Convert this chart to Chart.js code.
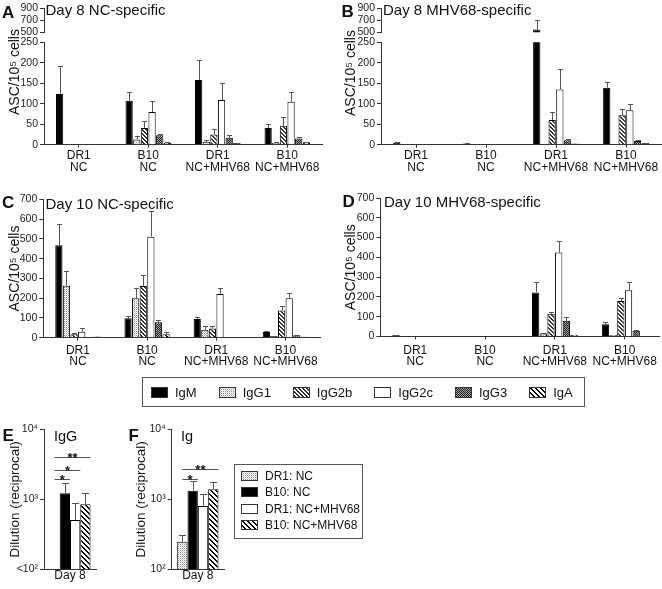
<!DOCTYPE html>
<html>
<head>
<meta charset="utf-8">
<title>ASC and titer panels</title>
<script src="https://cdn.jsdelivr.net/npm/chart.js@4.4.1/dist/chart.umd.min.js"></script>
<style>
  body { margin: 0; background: #fff; }
  #page { position: relative; width: 662px; height: 589px; overflow: hidden;
          font-family: Arial, "Liberation Sans", Helvetica, sans-serif; color: #111; }
  #page canvas { position: absolute; }
  .txt { position: absolute; line-height: 1; white-space: nowrap; }
  .letter { font-weight: bold; font-size: 17px; }
  .head { font-size: 15px; }
  .box { position: absolute; border: 1px solid #555; box-sizing: border-box; }
  #isoLegend { left: 142px; top: 377px; width: 443px; height: 30px; display: flex; align-items: center; padding-left: 8px; }
  #isoLegend .item { display: flex; align-items: center; margin-right: 22px; font-size: 13px; }
  #isoLegend canvas, #grpLegend canvas { position: static; margin-right: 7px; }
  #grpLegend { left: 234px; top: 464px; width: 129px; height: 75px; padding: 3px 0 0 6px; }
  #grpLegend .item { display: flex; align-items: center; height: 16.3px; font-size: 12px; }
</style>
</head>
<body>
<div id="page">
  <canvas id="aTop" width="331" height="42" style="left:0;top:0"></canvas>
  <canvas id="aLow" width="331" height="175" style="left:0;top:0"></canvas>
  <canvas id="bTop" width="331" height="42" style="left:331px;top:0"></canvas>
  <canvas id="bLow" width="331" height="175" style="left:331px;top:0"></canvas>
  <canvas id="cChart" width="331" height="195" style="left:0;top:175px"></canvas>
  <canvas id="dChart" width="331" height="195" style="left:331px;top:175px"></canvas>
  <canvas id="eChart" width="110" height="179" style="left:0;top:410px"></canvas>
  <canvas id="fChart" width="112" height="179" style="left:120px;top:410px"></canvas>

  <div class="txt letter" style="left:2px;top:3.5px">A</div>
  <div class="txt head" style="left:45.5px;top:1.5px">Day 8 NC-specific</div>
  <div class="txt letter" style="left:341.5px;top:3px">B</div>
  <div class="txt head" style="left:383px;top:1.5px">Day 8 MHV68-specific</div>
  <div class="txt letter" style="left:2px;top:194.2px">C</div>
  <div class="txt head" style="left:45.5px;top:195.9px">Day 10 NC-specific</div>
  <div class="txt letter" style="left:342.5px;top:193.2px">D</div>
  <div class="txt head" style="left:384px;top:194.3px">Day 10 MHV68-specific</div>
  <div class="txt letter" style="left:2.5px;top:426.6px">E</div>
  <div class="txt head" style="left:54px;top:428.5px;font-size:14.5px">IgG</div>
  <div class="txt letter" style="left:128.5px;top:426.6px">F</div>
  <div class="txt head" style="left:181px;top:428.5px;font-size:14.5px">Ig</div>

  <div id="isoLegend" class="box"></div>
  <div id="grpLegend" class="box"></div>
</div>

<script>
// =============================
// DATA
// =============================

const groups = [['DR1', 'NC'], ['B10', 'NC'], ['DR1', 'NC+MHV68'], ['B10', 'NC+MHV68']];
const isotypes = ['IgM', 'IgG1', 'IgG2b', 'IgG2c', 'IgG3', 'IgA'];

// ASC per 10^5 cells: one row per isotype, one column per group
const day8NcMean = [
    [124, 107, 158, 41],
    [2, 13, 7, 5],
    [0.5, 41, 25, 46],
    [1, 80, 109, 105],
    [0.5, 23, 17, 15],
    [0.5, 5, 4, 6]
];
const day8NcSem = [
    [68, 22, 48, 9],
    [0, 8, 4, 1],
    [0, 18, 13, 22],
    [0, 27, 42, 23],
    [0, 3, 7, 4],
    [0, 1, 1, 1]
];

const day8MhvMean = [
    [5, 3, 545, 139],
    [0, 0, 2, 2],
    [0, 0, 60, 72],
    [0, 0, 135, 84],
    [0, 0, 11, 9],
    [0, 0, 3, 4]
];
const day8MhvSem = [
    [2, 1, 155, 13],
    [0, 0, 0, 0],
    [0, 0, 19, 14],
    [0, 0, 49, 15],
    [0, 0, 4, 3],
    [0, 0, 0, 1]
];

const day10NcMean = [
    [467, 98, 94, 29],
    [263, 199, 40, 8],
    [17, 261, 47, 138],
    [30, 511, 221, 200],
    [4, 78, 3, 12],
    [6, 17, 2, 5]
];
const day10NcSem = [
    [108, 12, 12, 5],
    [74, 51, 21, 2],
    [8, 54, 10, 21],
    [17, 132, 32, 24],
    [0, 10, 0, 3],
    [0, 10, 0, 0]
];

const day10MhvMean = [
    [7, 3, 223, 62],
    [0, 0, 15, 7],
    [0, 0, 115, 180],
    [0, 0, 425, 234],
    [0, 0, 79, 29],
    [0, 0, 7, 3]
];
const day10MhvSem = [
    [1, 0, 50, 12],
    [0, 0, 5, 0],
    [0, 0, 11, 14],
    [0, 0, 56, 39],
    [0, 0, 21, 6],
    [0, 0, 0, 0]
];

const lowTicks = [0, 50, 100, 150, 200, 250];
const highTicks = [500, 700, 900];
const day10Ticks = [0, 100, 200, 300, 400, 500, 600, 700];

// serum titers (reciprocal dilution), day 8
const timepoints = ['Day 8'];
const groupNames = ['DR1: NC', 'B10: NC', 'DR1: NC+MHV68', 'B10: NC+MHV68'];
const iggMean = [null, 1220, 507, 848];
const iggSem = [0, 510, 370, 370];
const igMean = [248, 1330, 803, 1390];
const igSem = [58, 500, 390, 400];
const titerTicks = [100, 1000, 10000];
const iggTickLabels = ['<10²', '10³', '10⁴'];
const igTickLabels = ['10²', '10³', '10⁴'];

// significance bars: [from group, to group, height, mark]
const iggBrackets = [[0, 1, 1970, '*'], [0, 2, 2620, '*'], [0, 3, 3980, '**']];
const igBrackets = [[0, 1, 1970, '*'], [0, 3, 2680, '**']];

const ascTitle = 'ASC/10⁵ cells';


// =============================
// FILLS
// =============================

const FONT = "Arial, 'Liberation Sans', Helvetica, sans-serif";
Chart.defaults.font.family = FONT;
Chart.defaults.color = '#111';

function makePattern(size, paint) {
    const c = document.createElement('canvas');
    c.width = c.height = size;
    const x = c.getContext('2d');
    x.fillStyle = '#fff';
    x.fillRect(0, 0, size, size);
    paint(x, size);
    return x.createPattern(c, 'repeat');
}

function diagonal(width, color) {
    return (x, n) => {
        x.fillStyle = color;
        for (let i = 0; i < n; i++) {
            for (let k = 0; k < width; k++) x.fillRect((i + k) % n, i, 1, 1);
        }
    };
}

const stipple = makePattern(2, x => {
    x.fillStyle = '#8c8c8c'; x.fillRect(0, 0, 1, 1);
    x.fillStyle = '#cfcfcf'; x.fillRect(1, 1, 1, 1);
});
const fineHatch = makePattern(4, diagonal(2, '#333'));
const crossHatch = makePattern(2, x => {
    x.fillStyle = '#222'; x.fillRect(0, 0, 1, 1); x.fillRect(1, 1, 1, 1);
    x.fillStyle = '#a0a0a0'; x.fillRect(1, 0, 1, 1); x.fillRect(0, 1, 1, 1);
});
const stripes = makePattern(5, diagonal(2, '#000'));

const isoFill = ['#000', stipple, fineHatch, '#fff', crossHatch, stripes];
const groupFill = [stipple, '#000', '#fff', stripes];


// =============================
// PLUGINS
// =============================

const errorBars = {
    id: 'errorBars',
    afterDatasetsDraw(chart) {
        const { ctx, chartArea: a } = chart;
        ctx.save();
        ctx.beginPath();
        ctx.rect(a.left, a.top - 2, a.right - a.left, a.bottom - a.top + 2);
        ctx.clip();
        ctx.strokeStyle = '#555';
        ctx.lineWidth = 1;
        ctx.beginPath();
        chart.data.datasets.forEach((ds, i) => {
            const meta = chart.getDatasetMeta(i);
            const ys = chart.scales[meta.yAxisID];
            meta.data.forEach((bar, j) => {
                const m = ds.means[j], e = ds.sem[j];
                if (ds.data[j] == null || m == null || !e) return;
                const x = Math.round(bar.x) + 0.5;
                const y0 = ys.getPixelForValue(m);
                const y1 = Math.round(ys.getPixelForValue(m + e)) + 0.5;
                const cap = Math.max(2, bar.width * 0.35);
                ctx.moveTo(x, y0); ctx.lineTo(x, y1);
                ctx.moveTo(x - cap, y1); ctx.lineTo(x + cap, y1);
            });
        });
        ctx.stroke();
        ctx.restore();
    }
};

// rotated axis title spanning both halves of a broken axis
const sideTitle = {
    id: 'sideTitle',
    afterDraw(chart, args, opts) {
        if (!opts || !opts.text) return;
        const ctx = chart.ctx;
        ctx.save();
        ctx.translate(opts.x, opts.y);
        ctx.rotate(-Math.PI / 2);
        ctx.font = '14px ' + FONT;
        ctx.fillStyle = '#111';
        ctx.textAlign = 'center';
        ctx.textBaseline = 'middle';
        ctx.fillText(opts.text, 0, 0);
        ctx.restore();
    }
};

const brackets = {
    id: 'brackets',
    afterDatasetsDraw(chart, args, opts) {
        if (!opts || !opts.list) return;
        const ctx = chart.ctx, ys = chart.scales.y;
        ctx.save();
        ctx.strokeStyle = '#555';
        ctx.fillStyle = '#111';
        ctx.lineWidth = 1;
        ctx.font = 'bold 13px ' + FONT;
        ctx.textAlign = 'center';
        ctx.textBaseline = 'alphabetic';
        opts.list.forEach(b => {
            const x0 = chart.getDatasetMeta(b[0]).data[0].x;
            const bar = chart.getDatasetMeta(b[1]).data[0];
            const x1 = bar.x + bar.width / 2;
            const y = Math.round(ys.getPixelForValue(b[2])) + 0.5;
            ctx.beginPath();
            ctx.moveTo(x0, y); ctx.lineTo(x1, y);
            ctx.stroke();
            ctx.fillText(b[3], (x0 + x1) / 2, y + 4.5);
        });
        ctx.restore();
    }
};


// =============================
// CHART BUILDERS
// =============================

function isoChart(id, cfg) {
    const canvas = document.getElementById(id);
    const W = canvas.width, H = canvas.height, a = cfg.area;
    const lo = cfg.ticks[0], hi = cfg.ticks[cfg.ticks.length - 1];

    const datasets = cfg.mean.map((row, i) => ({
        label: isotypes[i],
        data: cfg.upper ? row.map(v => (v > lo ? v : null)) : row,
        means: row,
        sem: cfg.sem[i],
        backgroundColor: isoFill[i],
        borderColor: '#000',
        borderWidth: 1,
        categoryPercentage: 0.66,
        barPercentage: 0.95,
        clip: 0
    }));

    return new Chart(canvas, {
        type: 'bar',
        data: { labels: groups, datasets: datasets },
        options: {
            responsive: false,
            animation: false,
            devicePixelRatio: 1,
            layout: { padding: { left: 0, top: a.top, right: W - a.right, bottom: cfg.showX ? 0 : H - a.bottom } },
            plugins: {
                legend: { display: false },
                tooltip: { enabled: false },
                sideTitle: cfg.sideTitle || false
            },
            scales: {
                x: {
                    display: cfg.showX,
                    grid: { drawOnChartArea: false, offset: false, tickLength: 3, color: '#333' },
                    border: { color: '#333' },
                    ticks: { font: { size: 12, lineHeight: 0.95 }, color: '#111', padding: cfg.xPad || 0, maxRotation: 0, autoSkip: false },
                    afterFit: s => { if (cfg.showX) s.height = H - a.bottom; }
                },
                y: {
                    min: lo,
                    max: hi,
                    afterBuildTicks: s => { s.ticks = cfg.ticks.map(v => ({ value: v })); },
                    grid: { drawOnChartArea: false, tickLength: 4, color: '#333' },
                    border: { color: '#333' },
                    ticks: { font: { size: 10.5 }, color: '#222', padding: 2, autoSkip: false },
                    title: cfg.titlePad == null ? { display: false } : {
                        display: true, text: ascTitle, color: '#111',
                        font: { size: 14 }, padding: { top: cfg.titlePad, bottom: 0 }
                    },
                    afterFit: s => { s.width = a.left; }
                }
            }
        },
        plugins: [errorBars, sideTitle]
    });
}

function titerChart(id, cfg) {
    const canvas = document.getElementById(id);
    const W = canvas.width, H = canvas.height, a = cfg.area;

    const datasets = groupNames.map((name, i) => ({
        label: name,
        data: [cfg.mean[i]],
        means: [cfg.mean[i]],
        sem: [cfg.sem[i]],
        backgroundColor: groupFill[i],
        borderColor: '#000',
        borderWidth: 1,
        categoryPercentage: 0.79,
        barPercentage: 1,
        clip: 0
    }));

    return new Chart(canvas, {
        type: 'bar',
        data: { labels: timepoints, datasets: datasets },
        options: {
            responsive: false,
            animation: false,
            devicePixelRatio: 1,
            layout: { padding: { left: 0, top: a.top, right: W - a.right, bottom: 0 } },
            plugins: {
                legend: { display: false },
                tooltip: { enabled: false },
                brackets: { list: cfg.brackets }
            },
            scales: {
                x: {
                    grid: { drawOnChartArea: false, drawTicks: false },
                    border: { color: '#333' },
                    ticks: { font: { size: 12, lineHeight: 1 }, color: '#111', padding: 0 },
                    afterFit: s => { s.height = H - a.bottom; }
                },
                y: {
                    type: 'logarithmic',
                    min: titerTicks[0],
                    max: titerTicks[titerTicks.length - 1],
                    afterBuildTicks: s => { s.ticks = titerTicks.map(v => ({ value: v })); },
                    grid: { drawOnChartArea: false, tickLength: 4, color: '#333' },
                    border: { color: '#333' },
                    ticks: { font: { size: 10.5 }, color: '#222', padding: 2, autoSkip: false, callback: (v, i) => cfg.tickLabels[i] },
                    title: {
                        display: true, text: 'Dilution (reciprocal)', color: '#111',
                        font: { size: 13.5 }, padding: { top: cfg.titlePad, bottom: 0 }
                    },
                    afterFit: s => { s.width = a.left; }
                }
            }
        },
        plugins: [errorBars, brackets]
    });
}


// =============================
// PANELS
// =============================

// A: day 8 NC-specific, broken axis
isoChart('aTop', { mean: day8NcMean, sem: day8NcSem, ticks: highTicks, upper: true, showX: false,
    area: { left: 44, top: 6.7, right: 322, bottom: 32.3 } });
isoChart('aLow', { mean: day8NcMean, sem: day8NcSem, ticks: lowTicks, showX: true, xPad: 2.6,
    area: { left: 44, top: 42.3, right: 322, bottom: 144.7 },
    sideTitle: { text: ascTitle, x: 15, y: 72 } });

// B: day 8 MHV68-specific, broken axis
isoChart('bTop', { mean: day8MhvMean, sem: day8MhvSem, ticks: highTicks, upper: true, showX: false,
    area: { left: 50, top: 6.7, right: 330, bottom: 32.3 } });
isoChart('bLow', { mean: day8MhvMean, sem: day8MhvSem, ticks: lowTicks, showX: true, xPad: 2.6,
    area: { left: 50, top: 42.3, right: 330, bottom: 144.7 },
    sideTitle: { text: ascTitle, x: 20, y: 73 } });

// C and D: day 10
isoChart('cChart', { mean: day10NcMean, sem: day10NcSem, ticks: day10Ticks, showX: true, xPad: 4, titlePad: 6.6,
    area: { left: 43.3, top: 24.3, right: 320, bottom: 162.7 } });
isoChart('dChart', { mean: day10MhvMean, sem: day10MhvSem, ticks: day10Ticks, showX: true, xPad: 5, titlePad: 11.6,
    area: { left: 49.3, top: 23, right: 330, bottom: 161.5 } });

// E and F: serum titers
titerChart('eChart', { mean: iggMean, sem: iggSem, tickLabels: iggTickLabels, brackets: iggBrackets, titlePad: 6.9,
    area: { left: 44, top: 19.3, right: 96, bottom: 159.3 } });
titerChart('fChart', { mean: igMean, sem: igSem, tickLabels: igTickLabels, brackets: igBrackets, titlePad: 13.6,
    area: { left: 51.7, top: 19.3, right: 104, bottom: 159.3 } });


// =============================
// LEGENDS
// =============================

function swatch(fill, w, h) {
    const c = document.createElement('canvas');
    c.width = w; c.height = h;
    const x = c.getContext('2d');
    x.fillStyle = fill;
    x.fillRect(0, 0, w, h);
    x.strokeStyle = '#333';
    x.lineWidth = 1;
    x.strokeRect(0.5, 0.5, w - 1, h - 1);
    return c;
}

function fillLegend(boxId, names, fills, w, h) {
    const box = document.getElementById(boxId);
    names.forEach((name, i) => {
        const item = document.createElement('div');
        item.className = 'item';
        item.appendChild(swatch(fills[i], w, h));
        const label = document.createElement('span');
        label.textContent = name;
        item.appendChild(label);
        box.appendChild(item);
    });
}

fillLegend('isoLegend', isotypes, isoFill, 17, 11);
fillLegend('grpLegend', groupNames, groupFill, 17, 10);
</script>
</body>
</html>
